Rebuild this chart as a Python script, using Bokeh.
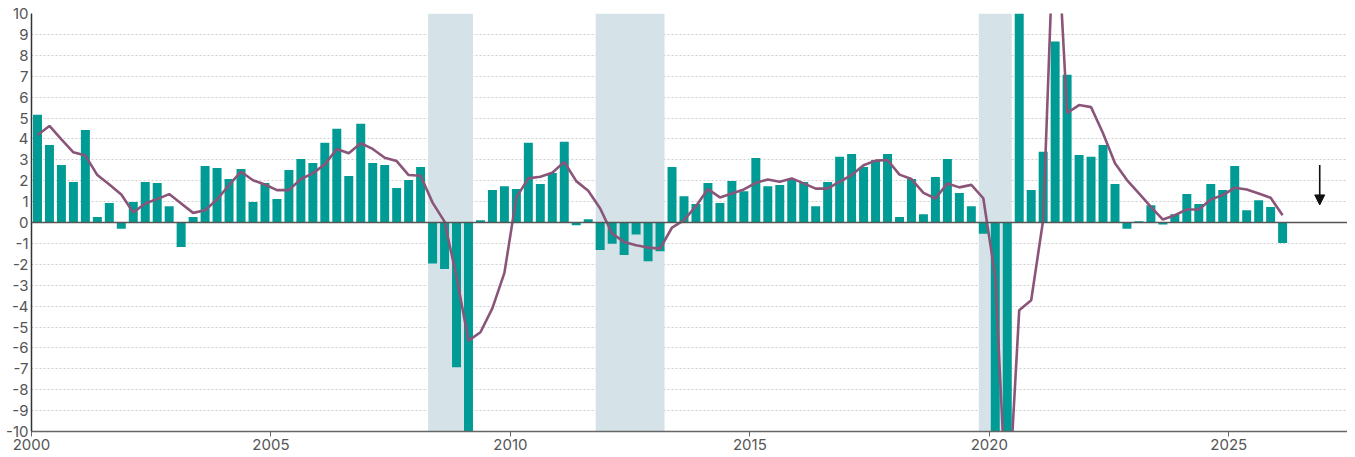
from bokeh.plotting import figure
from bokeh.models import FixedTicker, Span, Arrow, NormalHead, ColumnDataSource
from bokeh.embed import file_html
from bokeh.resources import INLINE

# ---------------- data ----------------
first_year = 2000
# quarterly growth (annualised q/q, %), 2000Q1 .. 2026Q1 (clipped values estimated)
bar_values = [
    5.15, 3.71, 2.75, 1.94,
    4.43, 0.26, 0.93, -0.30,
    0.98, 1.94, 1.89, 0.78,
    -1.17, 0.26, 2.70, 2.61,
    2.08, 2.56, 0.98, 1.89,
    1.12, 2.51, 3.04, 2.85,
    3.81, 4.48, 2.22, 4.72,
    2.85, 2.75, 1.65, 2.03,
    2.66, -1.96, -2.23, -6.92,
    -11.5, 0.11, 1.55, 1.74,
    1.60, 3.81, 1.84, 2.37,
    3.86, -0.13, 0.16, -1.32,
    -1.02, -1.56, -0.58, -1.85,
    -1.37, 2.66, 1.26, 0.88,
    1.89, 0.93, 1.98, 1.50,
    3.09, 1.74, 1.79, 2.08,
    1.94, 0.78, 1.94, 3.14,
    3.28, 2.66, 2.99, 3.28,
    0.26, 2.08, 0.40, 2.18,
    3.04, 1.41, 0.78, -0.54,
    -14.0, -38.0, 55.0, 1.55,
    3.38, 8.66, 7.07, 3.23,
    3.14, 3.71, 1.84, -0.30,
    0.06, 0.83, -0.10, 0.40,
    1.36, 0.88, 1.84, 1.55,
    2.70, 0.59, 1.07, 0.74,
    -0.98,
]
# year-over-year growth (%), same quarters
line_values = [
    4.19, 4.62, 3.98, 3.36,
    3.20, 2.27, 1.82, 1.34,
    0.48, 0.91, 1.12, 1.36,
    0.91, 0.46, 0.59, 1.10,
    1.79, 2.43, 2.02, 1.82,
    1.55, 1.55, 2.08, 2.35,
    2.78, 3.52, 3.31, 3.79,
    3.52, 3.10, 2.94, 2.27,
    2.24, 0.95, 0.04, -2.6,
    -5.65, -5.25, -4.10, -2.41,
    1.20, 2.11, 2.19, 2.38,
    2.90, 1.98, 1.52, 0.67,
    -0.53, -0.93, -1.09, -1.20,
    -1.25, -0.24, 0.11, 0.78,
    1.60, 1.20, 1.39, 1.58,
    1.90, 2.06, 1.95, 2.11,
    1.87, 1.62, 1.62, 1.95,
    2.27, 2.74, 2.96, 2.99,
    2.29, 2.08, 1.42, 1.15,
    1.87, 1.68, 1.80, 1.16,
    -2.60, -14.5, -4.20, -3.72,
    0.12, 16.0, 5.24, 5.62,
    5.52, 4.27, 2.83, 2.03,
    1.39, 0.75, 0.14, 0.35,
    0.62, 0.62, 1.10, 1.31,
    1.66, 1.58, 1.39, 1.18,
    0.35,
]
# recessions: first and last quarter (year, quarter)
rec_first = [(2008, 2), (2011, 4), (2019, 4)]
rec_last = [(2009, 1), (2013, 1), (2020, 2)]

x_ticks = [2000, 2005, 2010, 2015, 2020, 2025]
x_tick_labels = ["2000", "2005", "2010", "2015", "2020", "2025"]
y_ticks = list(range(-10, 11))
y_tick_labels = [str(v) for v in y_ticks]

arrow_x = 2026.9
arrow_from = 2.75
arrow_to = 0.84

# ---------------- derived ----------------
BW = 0.1875  # bar width in years
def qx(y, q):
    return y + (q - 1) * 0.25 + 0.125

xs = [first_year + i * 0.25 + 0.125 for i in range(len(bar_values))]
src = ColumnDataSource(dict(x=xs, v=bar_values, l=line_values))
rec_src = ColumnDataSource(dict(
    left=[qx(*a) - BW / 2 for a in rec_first],
    right=[qx(*b) + BW / 2 for b in rec_last],
    bottom=[-10] * len(rec_first),
    top=[10] * len(rec_first),
))

FONT = "Inter"
TXT = "#555555"

p = figure(width=1347, height=452, output_backend="svg", toolbar_location=None,
           x_range=(2000, 2027.48), y_range=(-10, 10),
           min_border_left=31, min_border_right=0, min_border_top=13, min_border_bottom=0)
p.outline_line_color = None
p.background_fill_color = "white"

p.quad(left="left", right="right", bottom="bottom", top="top", source=rec_src,
       fill_color="#d5e3e8", line_color=None)

p.xgrid.grid_line_color = None
p.ygrid.grid_line_color = "#cfcfcf"
p.ygrid.grid_line_dash = "2 2"
p.ygrid.grid_line_width = 1

p.vbar(x="x", top="v", bottom=0, width=BW, source=src, fill_color="#009b95", line_color=None)
p.add_layout(Span(location=0, dimension="width", line_color="#555555", line_width=1.5))
p.line(x="x", y="l", source=src, line_color="#8b5579", line_width=2.6)

p.add_layout(Arrow(end=NormalHead(size=10, fill_color="#111111", line_color="#111111"),
                   x_start=arrow_x, y_start=arrow_from, x_end=arrow_x, y_end=arrow_to,
                   line_color="#111111", line_width=1.6))

p.xaxis.ticker = FixedTicker(ticks=x_ticks)
p.xaxis.major_label_overrides = {t: s for t, s in zip(x_ticks, x_tick_labels)}
p.xaxis.axis_line_color = "#666666"
p.xaxis.axis_line_width = 1.5
p.xaxis.major_tick_out = 5
p.xaxis.major_tick_in = 0
p.xaxis.major_tick_line_color = "#666666"
p.xaxis.minor_tick_line_color = None
p.xaxis.major_label_standoff = 2
p.xaxis.major_label_text_font = FONT
p.xaxis.major_label_text_font_size = "15px"
p.xaxis.major_label_text_color = TXT

p.yaxis.ticker = FixedTicker(ticks=y_ticks)
p.yaxis.major_label_overrides = {t: s for t, s in zip(y_ticks, y_tick_labels)}
p.yaxis.axis_line_color = "#333333"
p.yaxis.axis_line_width = 1.5
p.yaxis.major_tick_out = 0
p.yaxis.major_tick_in = 0
p.yaxis.minor_tick_line_color = None
p.yaxis.major_label_standoff = 3
p.yaxis.major_label_text_font = FONT
p.yaxis.major_label_text_font_size = "15px"
p.yaxis.major_label_text_color = TXT

open("out.html", "w").write(file_html(p, INLINE))
